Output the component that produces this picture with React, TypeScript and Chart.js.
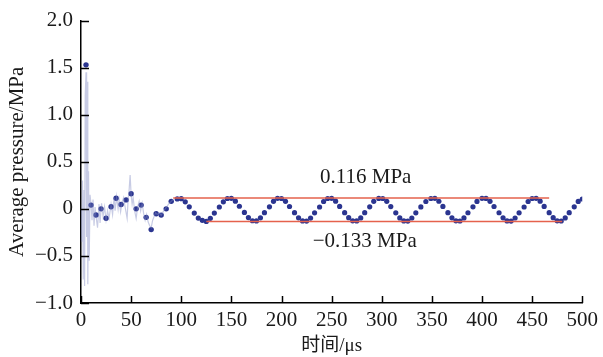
import React, { useEffect, useRef } from 'react';
import { Chart, registerables } from 'chart.js';

Chart.register(...registerables);

// ---- axis ticks ----
const xTickValues = [0, 50, 100, 150, 200, 250, 300, 350, 400, 450, 500];
const xTickLabels = ['0', '50', '100', '150', '200', '250', '300', '350', '400', '450', '500'];
const yTickValues = [-1, -0.5, 0, 0.5, 1, 1.5, 2];
const yTickLabels = ['\u22121.0', '\u22120.5', '0', '0.5', '1.0', '1.5', '2.0'];

// ---- early sampled points (µs, MPa) ----
const earlyTimes = [5, 10, 15, 20, 25, 30, 35, 40, 45, 50, 55, 60, 65, 70, 75, 80, 85, 90];
const earlyValues = [1.53, 0.04, -0.065, 0.0, -0.1, 0.022, 0.113, 0.046, 0.095, 0.16, 0.0, 0.04, -0.09, -0.22, -0.052, -0.066, 0.0, 0.08];

// ---- oscillation sampled points ----
const oscTimes = [
  96, 100, 104, 108, 113, 117, 121, 125, 129, 133, 138, 142,
  146, 150, 154, 158, 163, 167, 171, 175, 179, 183, 188, 192,
  196, 200, 204, 208, 213, 217, 221, 225, 229, 233, 238, 242,
  246, 250, 254, 258, 263, 267, 271, 275, 279, 283, 288, 292,
  297, 301, 305, 309, 314, 318, 322, 326, 330, 334, 339, 344,
  349, 353, 357, 361, 366, 370, 374, 378, 382, 386, 391, 395,
  400, 404, 408, 412, 417, 421, 425, 429, 433, 437, 442, 446,
  450, 454, 458, 462, 467, 471, 475, 479, 483, 487, 492, 496,
  500,
];
const oscValues = [
  0.106, 0.108, 0.075, 0.022, -0.045, -0.098, -0.122, -0.133, -0.1, -0.045, 0.02, 0.075,
  0.11, 0.112, 0.082, 0.028, -0.038, -0.092, -0.126, -0.128, -0.095, -0.04, 0.022, 0.08,
  0.112, 0.11, 0.08, 0.025, -0.04, -0.095, -0.128, -0.13, -0.098, -0.042, 0.02, 0.078,
  0.11, 0.112, 0.082, 0.026, -0.04, -0.094, -0.127, -0.128, -0.096, -0.04, 0.022, 0.08,
  0.111, 0.11, 0.08, 0.024, -0.042, -0.096, -0.128, -0.13, -0.097, -0.042, 0.021, 0.078,
  0.11, 0.112, 0.081, 0.026, -0.04, -0.095, -0.127, -0.129, -0.096, -0.041, 0.022, 0.079,
  0.112, 0.111, 0.08, 0.025, -0.041, -0.095, -0.128, -0.13, -0.097, -0.042, 0.02, 0.078,
  0.11, 0.112, 0.082, 0.026, -0.04, -0.094, -0.127, -0.129, -0.096, -0.04, 0.022, 0.079,
  0.105,
];

// ---- raw (faint) signal ----
const rawTimes = [
  0, 0.8, 1.5, 2.2, 3, 3.6, 4.2, 5, 5.6, 6.2, 6.8, 7.5, 8.2, 9, 10, 11, 12, 13, 14, 15,
  16.5, 18, 19, 20.5, 22, 23.5, 25, 26.5, 28, 30, 31.5, 33, 34, 35.5, 37, 38, 39.5, 41, 42.5, 44,
  46, 47, 48, 49, 50, 51, 52, 53.5, 55, 56.5, 58, 59.5, 61, 62.5, 64, 65.5, 67, 68.5, 70, 71.5,
  73, 74.5, 76, 78, 80, 82, 84, 86, 88, 90, 92,
];
const rawValues = [
  0, -0.35, 0.3, -0.75, 0.2, -0.82, 1.2, 1.45, -0.3, 1.35, -0.8, 0.4, -0.55, 0.15, 0.05, -0.12, 0.1, -0.18, 0.02, -0.08,
  -0.2, 0.05, -0.15, 0.06, -0.08, 0.02, -0.12, -0.02, -0.1, 0.05, -0.06, 0.12, -0.02, 0.13, 0.0, 0.1, -0.03, 0.07, 0.12, 0.02,
  -0.1, 0.1, 0.2, 0.36, 0.15, 0.05, 0.12, -0.02, -0.1, 0.02, 0.08, -0.02, 0.06, -0.05, -0.12, -0.06, -0.14, -0.18, -0.2, -0.12,
  -0.08, -0.04, -0.06, -0.04, -0.07, -0.03, 0.0, 0.03, 0.06, 0.08, 0.1,
];

// ---- reference levels ----
const upperLevel = 0.116;
const lowerLevel = -0.133;
const upperSpan = [92, 467];
const lowerSpan = [125, 480];
const annotationTexts = ['0.116 MPa', '\u22120.133 MPa'];
const annotationAnchors = [
  { x: 284, y: 0.33 },
  { x: 283, y: -0.35 },
];

const SERIF = "'Liberation Serif', 'Times New Roman', 'Noto Sans CJK SC', serif";

const innerTicks = {
  id: 'innerTicks',
  afterDraw(chart: any) {
    const { ctx, chartArea, scales } = chart;
    ctx.save();
    ctx.strokeStyle = '#000';
    ctx.lineWidth = 1.5;
    scales.x.ticks.forEach((t: any) => {
      const px = Math.round(scales.x.getPixelForValue(t.value)) + 0.5;
      ctx.beginPath();
      ctx.moveTo(px, chartArea.bottom);
      ctx.lineTo(px, chartArea.bottom - 7);
      ctx.stroke();
    });
    scales.y.ticks.forEach((t: any) => {
      const py = Math.round(scales.y.getPixelForValue(t.value)) + 0.5;
      ctx.beginPath();
      ctx.moveTo(chartArea.left, py);
      ctx.lineTo(chartArea.left + 8, py);
      ctx.stroke();
    });
    ctx.restore();
  },
};

const annotations = {
  id: 'annotations',
  afterDatasetsDraw(chart: any) {
    const { ctx, scales } = chart;
    ctx.save();
    ctx.fillStyle = '#1a1a1a';
    ctx.font = `21px ${SERIF}`;
    ctx.textAlign = 'center';
    ctx.textBaseline = 'middle';
    annotationTexts.forEach((txt, i) => {
      const a = annotationAnchors[i];
      ctx.fillText(txt, scales.x.getPixelForValue(a.x), scales.y.getPixelForValue(a.y));
    });
    ctx.restore();
  },
};

export default function App() {
  const ref = useRef<HTMLCanvasElement | null>(null);

  useEffect(() => {
    if (!ref.current) return;
    const early = earlyTimes.map((t, i) => ({ x: t, y: earlyValues[i] }));
    const osc = oscTimes.map((t, i) => ({ x: t, y: oscValues[i] }));
    const raw = rawTimes.map((t, i) => ({ x: t, y: rawValues[i] }));
    const dotColor = '#2b3590';
    const red = '#e5624c';

    const chart = new Chart(ref.current, {
      type: 'scatter',
      data: {
        datasets: [
          {
            data: raw,
            showLine: true,
            borderColor: 'rgba(130,140,195,0.45)',
            borderWidth: 1.2,
            pointRadius: 0,
            tension: 0,
          },
          {
            data: [{ x: upperSpan[0], y: upperLevel }, { x: upperSpan[1], y: upperLevel }],
            showLine: true,
            borderColor: red,
            borderWidth: 1.5,
            pointRadius: 0,
          },
          {
            data: [{ x: lowerSpan[0], y: lowerLevel }, { x: lowerSpan[1], y: lowerLevel }],
            showLine: true,
            borderColor: red,
            borderWidth: 1.5,
            pointRadius: 0,
          },
          {
            data: early,
            pointRadius: 2.7,
            pointBackgroundColor: dotColor,
            pointBorderWidth: 0,
            showLine: false,
          },
          {
            data: osc,
            pointRadius: 2.6,
            pointBackgroundColor: dotColor,
            pointBorderWidth: 0,
            showLine: false,
          },
        ],
      },
      options: {
        animation: false,
        responsive: false,
        devicePixelRatio: 1,
        layout: { padding: { top: 15, right: 19, left: 0, bottom: 0 } },
        plugins: { legend: { display: false }, tooltip: { enabled: false } },
        scales: {
          x: {
            type: 'linear',
            min: 0,
            max: 500,
            afterFit: (s: any) => { s.height = 54; },
            afterBuildTicks: (s: any) => { s.ticks = xTickValues.map((v) => ({ value: v })); },
            ticks: {
              autoSkip: false,
              maxRotation: 0,
              padding: 5,
              color: '#1a1a1a',
              font: { family: SERIF, size: 21 },
              callback: (v: any) => xTickLabels[xTickValues.indexOf(Number(v))] ?? '',
            },
            grid: { display: false, drawTicks: false },
            border: { display: true, color: '#000', width: 1.5 },
            title: {
              display: true,
              text: '时间/μs',
              color: '#1a1a1a',
              font: { family: SERIF, size: 19 },
              padding: { top: 0, bottom: 0 },
            },
          },
          y: {
            type: 'linear',
            min: -1,
            max: 2,
            afterFit: (s: any) => { s.width = 81; },
            afterBuildTicks: (s: any) => { s.ticks = yTickValues.map((v) => ({ value: v })); },
            ticks: {
              autoSkip: false,
              padding: 8,
              color: '#1a1a1a',
              font: { family: SERIF, size: 21 },
              callback: (v: any) => yTickLabels[yTickValues.indexOf(Number(v))] ?? '',
            },
            grid: { display: false, drawTicks: false },
            border: { display: true, color: '#000', width: 1.5 },
            title: {
              display: true,
              text: 'Average pressure/MPa',
              color: '#1a1a1a',
              font: { family: SERIF, size: 21 },
              padding: { top: 5, bottom: 0 },
            },
          },
        },
      },
      plugins: [innerTicks, annotations],
    });
    return () => chart.destroy();
  }, []);

  return (
    <div style={{ position: 'absolute', left: 0, top: 0, width: 603, height: 357, background: '#fff' }}>
      <canvas ref={ref} width={603} height={357} style={{ width: 603, height: 357, display: 'block' }} />
    </div>
  );
}
